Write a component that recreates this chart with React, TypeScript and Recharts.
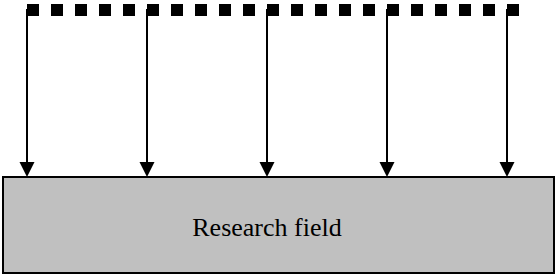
import React from "react";
import {
  ComposedChart,
  Line,
  Scatter,
  XAxis,
  YAxis,
  ReferenceLine,
  ReferenceArea,
} from "recharts";

// drop the default body margin so the drawing sits at 0,0
if (typeof document !== "undefined") document.body.style.margin = "0";

const W = 556;
const H = 275;

// the dashed "source" line across the top
const sourceLine = [
  { x: 27, y: 10 },
  { x: 519, y: 10 },
];

// arrows dropping from the source line onto the field
const arrowX = [27, 147, 267, 387, 507];
const arrowTop = 9;
const arrowTip = 177;

// the field box
const fieldBox = { x1: 3, x2: 554, y1: 177, y2: 273 };
const fieldLabel = [{ x: 267, y: 236, text: "Research field" }];

const arrowHeads = arrowX.map((x) => ({ x, y: arrowTip }));

const ArrowHead = (props: any) => {
  const { cx, cy } = props;
  if (cx == null || cy == null) return null;
  return (
    <polygon
      points={`${cx - 7.5},${cy - 15} ${cx + 7.5},${cy - 15} ${cx},${cy}`}
      fill="#000"
    />
  );
};

const FieldText = (props: any) => {
  const { cx, cy, payload } = props;
  return (
    <text
      x={cx}
      y={cy}
      textAnchor="middle"
      fontFamily="'Times New Roman', 'Liberation Serif', serif"
      fontSize={26}
      fill="#000"
    >
      {payload.text}
    </text>
  );
};

export default function App() {
  return (
    <div style={{ width: W, height: H, background: "#fff" }}>
      <ComposedChart width={W} height={H} margin={{ top: 0, right: 0, bottom: 0, left: 0 }}>
        <XAxis type="number" dataKey="x" domain={[0, W]} hide allowDataOverflow />
        <YAxis type="number" dataKey="y" domain={[0, H]} reversed hide allowDataOverflow />
        <ReferenceArea
          x1={fieldBox.x1}
          x2={fieldBox.x2}
          y1={fieldBox.y1}
          y2={fieldBox.y2}
          fill="#c0c0c0"
          fillOpacity={1}
          stroke="#000"
          strokeWidth={2}
          ifOverflow="visible"
        />
        {arrowX.map((x) => (
          <ReferenceLine
            key={x}
            segment={[
              { x, y: arrowTop },
              { x, y: arrowTip - 14 },
            ]}
            stroke="#000"
            strokeWidth={2}
            ifOverflow="visible"
          />
        ))}
        <Line
          data={sourceLine}
          dataKey="y"
          type="linear"
          stroke="#000"
          strokeWidth={12}
          strokeDasharray="12 12"
          dot={false}
          activeDot={false}
          isAnimationActive={false}
        />
        <Scatter data={arrowHeads} dataKey="y" shape={<ArrowHead />} isAnimationActive={false} />
        <Scatter data={fieldLabel} dataKey="y" shape={<FieldText />} isAnimationActive={false} />
      </ComposedChart>
    </div>
  );
}
